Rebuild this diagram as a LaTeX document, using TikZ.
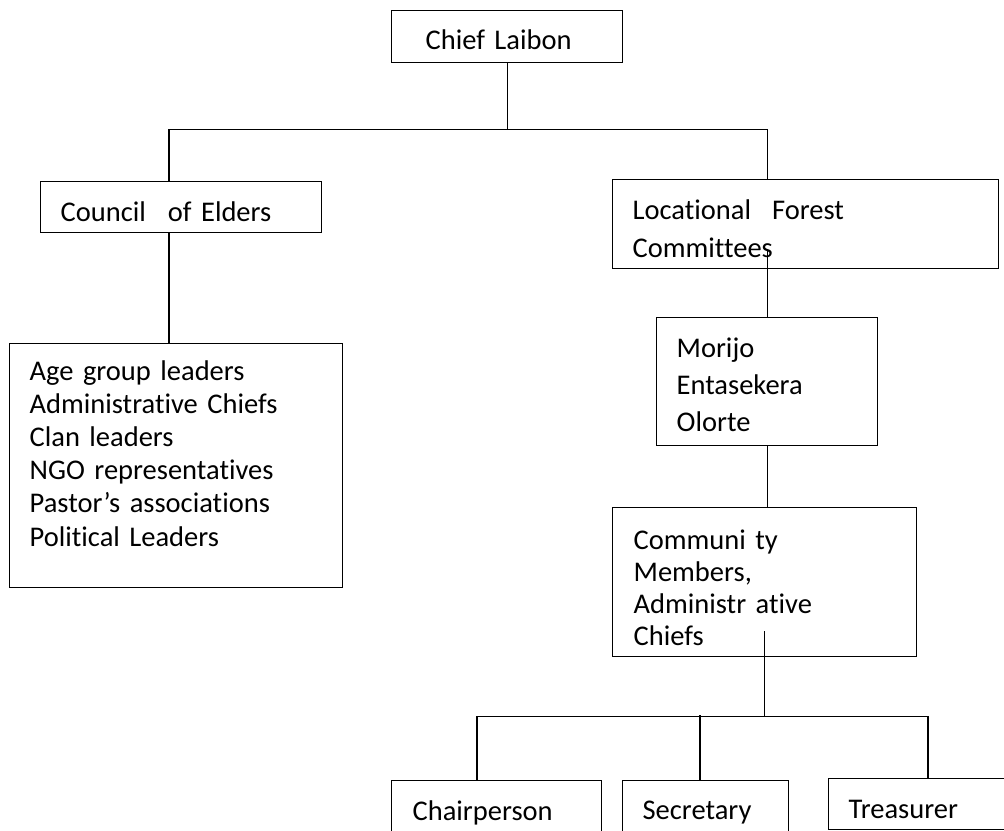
\documentclass[tikz,border=0pt]{standalone}
\usepackage{fontspec}
\setmainfont{Carlito}[Ligatures=NoCommon]
\usetikzlibrary{positioning,calc}

\newcommand{\lift}[1]{\rule{0pt}{#1}}
\newcommand{\sink}[1]{\rule[-#1]{0pt}{#1}}

\tikzset{
  box/.style={draw, line width=1.3pt, anchor=north west, align=left, inner ysep=0pt,
    font=\fontsize{28.5}{#1}\selectfont},
  box/.default=34,
  link/.style={line width=1.3pt},
}

\begin{document}
\begin{tikzpicture}[x=1pt,y=-1pt]
\useasboundingbox (0,0) rectangle (1004,830);
\clip (0,0) rectangle (1004,830);
% top of the tree
\node[box, minimum width=231pt, minimum height=52pt, inner xsep=34pt, text width=163pt]
  (chief) at (391,10) {\lift{25pt}Chief Laibon};
\node[box, minimum width=281pt, minimum height=51pt, inner xsep=20pt, text width=241pt]
  (council) at (40,181) {\lift{29pt}Council\hspace{22pt}of Elders};
\node[box=33.2, minimum width=333pt, minimum height=244pt, inner xsep=20pt, text width=293pt]
  (members) at (9,343) {Age group leaders\\ Administrative Chiefs\\ Clan leaders\\
  NGO representatives\\ Pastor’s associations\\ Political Leaders\sink{25pt}};
\node[box=38, minimum width=386pt, minimum height=89pt, inner xsep=20pt, text width=346pt]
  (lfc) at (612,179) {\lift{29pt}Locational\hspace{21pt}Forest\\ Committees};
\node[box=37, minimum width=221pt, minimum height=128pt, inner xsep=20pt, text width=181pt]
  (morijo) at (656,317) {\lift{26pt}Morijo\\ Entasekera\\ Olorte};
\node[box=32, minimum width=304pt, minimum height=149pt, inner xsep=21pt, text width=262pt]
  (community) at (612,507) {\lift{30pt}Communi ty\\ Members,\\ Administr ative\\ Chiefs};
% office bearers
\node[box, minimum width=210pt, minimum height=52pt, inner xsep=21pt, text width=168pt]
  (chair) at (391,780) {\lift{33pt}Chairperson};
\node[box, minimum width=166pt, minimum height=52pt, inner xsep=20pt, text width=126pt]
  (sec) at (622,780) {\lift{31pt}Secretary};
\node[box, minimum width=178pt, minimum height=51pt, inner xsep=20pt, text width=138pt]
  (treas) at (828,778) {\lift{29pt}Treasurer};

\coordinate (lcol) at (169,0);
\draw[link] (chief.south) -- ++(0,66) coordinate (fork);
\draw[link] (council.north -| lcol) |- (fork) -| (lfc.north -| morijo.north);
\draw[link] (council.south -| lcol) -- (members.north -| lcol);
\draw[link] (morijo.north) -- ($(lfc.south -| morijo.north)+(0,-18)$);
\draw[link] (morijo.south) -- (community.north -| morijo.south);
\draw[link] ($(community.south)+(0,-26)$) -- ++(0,85) coordinate (fork2);
\draw[link] ($(chair.north west)+(86,0)$) |- (fork2) -| ($(treas.north west)+(100,0)$);
\draw[link] ($(sec.north west)+(78,0)$) -- ($(sec.north west)+(78,-65)$);
\end{tikzpicture}
\end{document}
